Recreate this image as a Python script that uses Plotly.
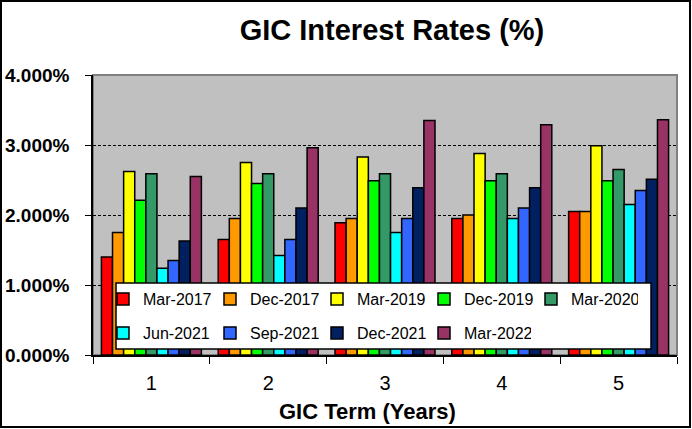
import plotly.graph_objects as go

terms = ["1", "2", "3", "4", "5"]

dates = ["Mar-2017", "Dec-2017", "Mar-2019", "Dec-2019", "Mar-2020",
         "Jun-2021", "Sep-2021", "Dec-2021", "Mar-2022"]

mar_2017 = [1.40, 1.65, 1.89, 1.95, 2.05]
dec_2017 = [1.75, 1.95, 1.95, 2.00, 2.05]
mar_2019 = [2.62, 2.75, 2.83, 2.88, 2.99]
dec_2019 = [2.21, 2.45, 2.49, 2.49, 2.49]
mar_2020 = [2.59, 2.59, 2.59, 2.59, 2.65]
jun_2021 = [1.24, 1.42, 1.75, 1.95, 2.15]
sep_2021 = [1.35, 1.65, 1.95, 2.10, 2.35]
dec_2021 = [1.63, 2.10, 2.39, 2.39, 2.51]
mar_2022 = [2.55, 2.96, 3.35, 3.29, 3.36]

series = [mar_2017, dec_2017, mar_2019, dec_2019, mar_2020,
          jun_2021, sep_2021, dec_2021, mar_2022]
colors = ["#FF0000", "#FF9900", "#FFFF00", "#00FF00", "#339966",
          "#00FFFF", "#3366FF", "#002060", "#993366"]

FONT = "Liberation Sans, Arial, sans-serif"
W, H = 692, 429
L, R, T, B = 93, 15, 75, 74
PW, PH = W - L - R, H - T - B


def px_x(px):
    return (px - L) / PW


def px_y(py):
    return (H - B - py) / PH


fig = go.Figure()
for i, (name, vals, col) in enumerate(zip(dates, series, colors)):
    fig.add_trace(go.Bar(
        x=terms,
        y=vals,
        name=name,
        marker=dict(color=col, line=dict(color="black", width=1.5)),
        legend="legend" if i < 5 else "legend2",
    ))

legend_common = dict(
    orientation="h",
    bgcolor="rgba(0,0,0,0)",
    borderwidth=0,
    font=dict(family=FONT, size=16, color="black"),
    entrywidth=62,
    entrywidthmode="pixels",
    xref="container",
    yref="container",
    xanchor="left",
    yanchor="middle",
    itemclick=False,
)

fig.update_layout(
    width=W,
    height=H,
    margin=dict(l=L, r=R, t=T, b=B, autoexpand=False),
    paper_bgcolor="white",
    plot_bgcolor="#C0C0C0",
    barmode="group",
    bargap=0.144,
    bargroupgap=0,
    font=dict(family=FONT, color="black"),
    title=dict(
        text="<b>GIC Interest Rates (%)</b>",
        x=px_x(392), xref="paper", xanchor="center",
        y=1 - 30 / H, yref="container", yanchor="middle",
        font=dict(family=FONT, size=29, color="black"),
    ),
    xaxis=dict(
        type="category",
        automargin=False,
        showline=True, linecolor="black", linewidth=1.5,
        ticks="outside", tickson="boundaries", ticklen=7,
        tickcolor="black", tickwidth=1,
        ticklabelstandoff=9,
        tickfont=dict(family=FONT, size=20, color="black"),
        showgrid=False,
    ),
    yaxis=dict(
        range=[0, 4], dtick=1,
        automargin=False,
        tickformat=".3f", ticksuffix="%",
        showline=True, linecolor="black", linewidth=1.5,
        ticks="outside", ticklen=6, tickcolor="black", tickwidth=1,
        ticklabelstandoff=12,
        tickfont=dict(family=FONT, size=19, color="black", weight="bold"),
        showgrid=True, gridcolor="black", gridwidth=1, griddash="3px,2px",
        zeroline=False,
    ),
    legend=dict(x=103 / W, y=1 - 299 / H, **legend_common),
    legend2=dict(x=103 / W, y=1 - 333 / H, **legend_common),
    annotations=[
        # x axis title
        dict(text="<b>GIC Term (Years)</b>", xref="paper", yref="paper",
             x=px_x(367), y=px_y(411), xanchor="center", yanchor="middle",
             showarrow=False, font=dict(family=FONT, size=22, color="black")),
    ],
    shapes=[
        # gray plot frame (top and right visible)
        dict(type="rect", xref="paper", yref="paper", x0=0, x1=1, y0=0, y1=1,
             line=dict(color="#808080", width=2), layer="below"),
        # legend box
        dict(type="rect", xref="paper", yref="paper",
             x0=px_x(116), x1=px_x(651), y0=px_y(349), y1=px_y(283),
             fillcolor="white", line=dict(color="black", width=1.5), layer="above"),
        # outer chart border
        dict(type="rect", xref="paper", yref="paper",
             x0=px_x(1), x1=px_x(690), y0=px_y(427), y1=px_y(1),
             line=dict(color="black", width=2)),
    ],
)

# page body margin would shift the chart off the window
fig.write_html("out.html", config={"displayModeBar": False},
               post_script="document.body.style.margin='0';")
